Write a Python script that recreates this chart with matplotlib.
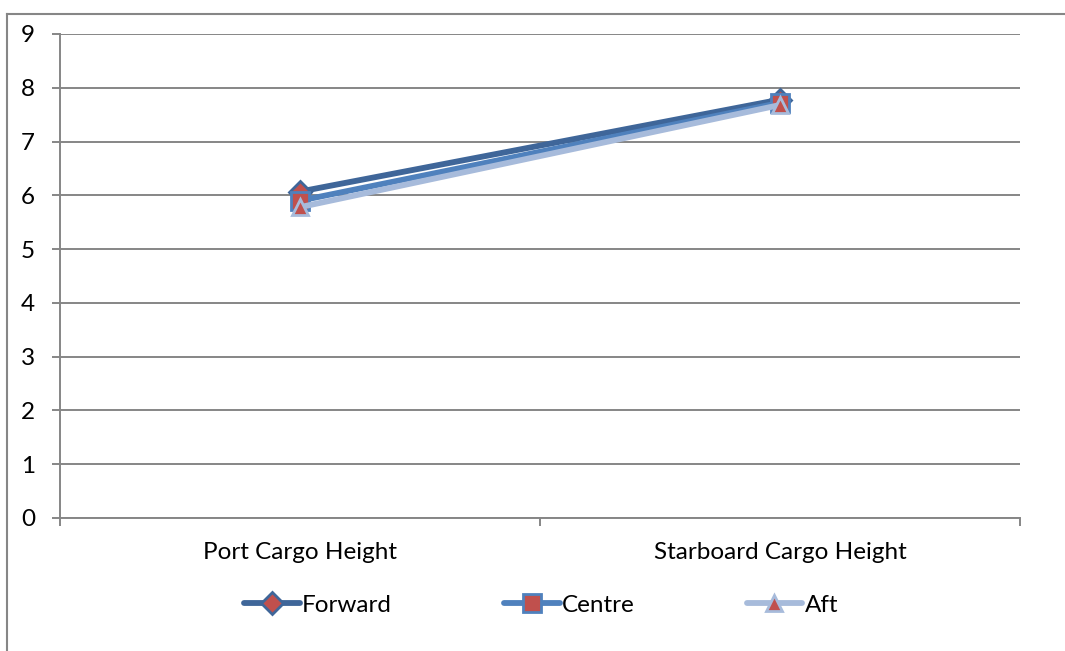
import matplotlib
matplotlib.use("Agg")
import matplotlib.pyplot as plt
from matplotlib.lines import Line2D

plt.rcParams["font.family"] = ["Lato", "DejaVu Sans"]

categories = ["Port Cargo Height", "Starboard Cargo Height"]
forward = [6.07, 7.78]
centre = [5.90, 7.72]
aft = [5.78, 7.68]

series = [
    ("Forward", forward, "#3F6699", "D", 11),
    ("Centre", centre, "#4F81BD", "s", 13),
    ("Aft", aft, "#A7BBDB", "^", 12),
]

fig = plt.figure(figsize=(10.65, 6.51), dpi=100)
ax = fig.add_axes([60 / 1065, 133 / 651, 960 / 1065, 484 / 651])

x = [0.5, 1.5]
for name, vals, col, mk, ms in series:
    ax.plot(x, vals, color=col, linewidth=4.2, marker=mk, markersize=ms,
            markerfacecolor="#C0504D", markeredgecolor=col, markeredgewidth=2.0,
            label=name, solid_capstyle="round", zorder=3)

ax.set_xlim(0, 2)
ax.set_ylim(0, 9)
ax.set_yticks(range(0, 10))
ax.yaxis.grid(True, color="#868686", linewidth=1.4)
ax.set_axisbelow(True)

# category labels sit between the tick marks at the category boundaries
ax.set_xticks([0, 1, 2])
ax.set_xticklabels([])
ax.set_xticks(x, minor=True)
ax.set_xticklabels(categories, minor=True)
ax.tick_params(axis="x", which="minor", length=0, pad=17, labelsize=17.5)
ax.tick_params(axis="x", which="major", length=6, width=1.4, color="#868686", direction="out")
ax.tick_params(axis="y", length=6, width=1.4, color="#868686", labelsize=17.5, pad=12)

for side in ["top", "right"]:
    ax.spines[side].set_visible(False)
for side in ["left", "bottom"]:
    ax.spines[side].set_color("#868686")
    ax.spines[side].set_linewidth(1.4)

# outer chart border
fig.add_artist(Line2D([6.5 / 1065, 6.5 / 1065], [0, 1 - 14 / 651], color="#868686", linewidth=1.5))
fig.add_artist(Line2D([6.5 / 1065, 1], [1 - 14 / 651, 1 - 14 / 651], color="#868686", linewidth=1.5))

ax.legend(loc="center", bbox_to_anchor=(541 / 1065, 1 - 605 / 651),
          bbox_transform=fig.transFigure, ncol=3, frameon=False, fontsize=17.5,
          handlelength=2.3, handletextpad=0.1, columnspacing=4.6)

fig.savefig("out.png", dpi=100)
